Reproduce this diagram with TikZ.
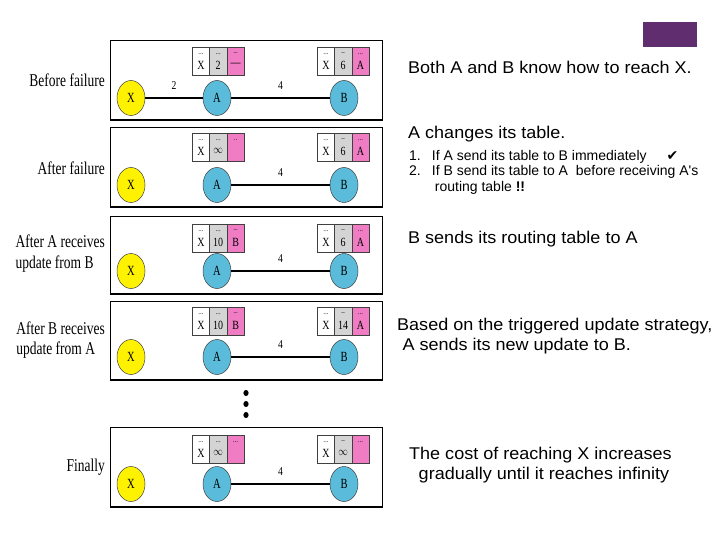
\documentclass[tikz,border=0pt]{standalone}
\usepackage{fontspec}
\usepackage{graphicx}
\setmainfont{Liberation Serif}
\newfontfamily\arial{Liberation Sans}
\newfontfamily\djv{DejaVu Sans}
\usetikzlibrary{shapes.geometric}
\definecolor{nodeblue}{RGB}{90,188,218}
\definecolor{cellgray}{RGB}{212,212,212}
\definecolor{cellpink}{RGB}{240,125,195}
\definecolor{hdrpurple}{RGB}{96,46,110}
\newcommand\cnd[2][0.75]{\scalebox{#1}[1]{#2}}
\newcommand\wid[1]{\scalebox{1.06}[1]{\begin{tabular}{@{}l@{}}#1\end{tabular}}}
\tikzset{
  panel/.style={draw=black, line width=0.9pt, anchor=north west, minimum width=272pt, inner sep=0pt},
  xnode/.style={ellipse, draw=black!75, line width=0.5pt, fill=yellow, minimum width=28pt, minimum height=35pt, inner sep=0pt, font=\fontsize{14}{14}\selectfont},
  abnode/.style={xnode, fill=nodeblue},
  cell/.style={draw=black!75, line width=0.5pt, anchor=north west, minimum width=17.33pt, minimum height=28pt, inner sep=0pt},
  celltop/.style={inner sep=0pt, font=\fontsize{7}{7}\selectfont},
  cellbot/.style={inner sep=0pt, font=\fontsize{12.5}{12.5}\selectfont},
  sidelbl/.style={anchor=east, inner sep=0pt, font=\fontsize{18}{20}\selectfont},
  edgelbl/.style={midway, yshift=12pt, inner sep=0pt, font=\fontsize{12}{12}\selectfont},
  thinlink/.style={draw=black, line width=1.1pt},
  thicklink/.style={draw=black, line width=2.2pt},
  rtext/.style={anchor=west, inner sep=0pt, align=left, font=\arial\fontsize{17}{20}\selectfont},
}
% #1 name, #2 x, #3 y, #4 col2 top, #5 col2 bottom, #6 col3 top, #7 col3 bottom
\newcommand\rtab[7]{%
  \node[cell, fill=white] (#1c1) at (#2,#3) {};
  \node[cell, fill=cellgray] (#1c2) at (#2+17.33,#3) {};
  \node[cell, fill=cellpink] (#1c3) at (#2+34.67,#3) {};
  \node[celltop] (#1t1) at ([yshift=-7pt]#1c1.north) {...};
  \node[cellbot] (#1b1) at ([yshift=-18pt]#1c1.north) {\cnd[0.8]{X}};
  \node[celltop] (#1t2) at ([yshift=-7pt]#1c2.north) {#4};
  \node[cellbot] (#1b2) at ([yshift=-18pt]#1c2.north) {\cnd[0.8]{#5}};
  \node[celltop] (#1t3) at ([yshift=-7pt]#1c3.north) {#6};
  \node[cellbot] (#1b3) at ([yshift=-18pt]#1c3.north) {\cnd[0.8]{#7}};
}
% #1 index, #2 top, #3 height, #4 node y
\newcommand\netpanel[4]{%
  \node[panel, minimum height=#3pt] (p#1) at (110,#2) {};
  \draw[line width=1.4pt] (p#1.south west) -- (p#1.south east);
  \node[xnode] (x#1) at (131,#4) {\cnd[0.75]{X}};
  \node[abnode] (a#1) at (217,#4) {\cnd[0.75]{A}};
  \node[abnode] (b#1) at (344,#4) {\cnd[0.75]{B}};
}
\begin{document}
\begin{tikzpicture}[x=1pt,y=-1pt]
\useasboundingbox (0,0) rectangle (720,540);
\fill[white] (0,0) rectangle (720,540);
% header mark
\fill[hdrpurple] (643,22) rectangle (697,47);

% panel 1
\netpanel{1}{40}{79}{98}
\rtab{ta1}{192}{47}{...}{2}{--}{---}
\rtab{tb1}{317}{47}{--}{6}{...}{A}
\draw[thinlink] (x1) -- node[edgelbl] {\cnd[0.8]{2}} (a1);
\draw[thinlink] (a1) -- node[edgelbl] {\cnd[0.8]{4}} (b1);
\node[sidelbl] (l1) at (105,80) {\cnd{Before failure}};

% panel 2
\netpanel{2}{127}{79}{185}
\rtab{ta2}{192}{133}{...}{$\infty$}{..}{}
\rtab{tb2}{317}{133}{--}{6}{...}{A}
\draw[thicklink] (a2) -- node[edgelbl] {\cnd[0.8]{4}} (b2);
\node[sidelbl] (l2) at (105,168) {\cnd{After failure}};

% panel 3
\netpanel{3}{216}{77}{271}
\rtab{ta3}{192}{224}{...}{10}{--}{B}
\rtab{tb3}{317}{224}{--}{6}{...}{A}
\draw[thicklink] (a3) -- node[edgelbl] {\cnd[0.8]{4}} (b3);
\node[sidelbl, align=left] (l3) at (105,254) {\cnd{\begin{tabular}{@{}l@{}}After A receives\\update from B\end{tabular}}};

% panel 4
\netpanel{4}{301}{78}{357}
\rtab{ta4}{192}{307}{...}{10}{--}{B}
\rtab{tb4}{317}{307}{--}{14}{...}{A}
\draw[thicklink] (a4) -- node[edgelbl] {\cnd[0.8]{4}} (b4);
\node[sidelbl, align=left] (l4) at (105,340) {\cnd{\begin{tabular}{@{}l@{}}After B receives\\update from A\end{tabular}}};

% dots
\fill (246,393) ellipse (2.6pt and 3.1pt);
\fill (246,404) ellipse (2.6pt and 3.1pt);
\fill (246,415) ellipse (2.6pt and 3.1pt);

% panel 5
\netpanel{5}{427}{79}{484}
\rtab{ta5}{192}{435}{...}{$\infty$}{...}{}
\rtab{tb5}{317}{435}{--}{$\infty$}{...}{}
\draw[thinlink] (a5) -- node[edgelbl] {\cnd[0.8]{4}} (b5);
\node[sidelbl] (l5) at (105,467) {\cnd{Finally}};

% right-hand texts
\node[rtext] (r1) at (408,70) {\wid{Both A and B know how to reach X.}};
\node[rtext] (r2) at (408,135) {\wid{A changes its table.}};
\node[anchor=north west, inner sep=0pt, font=\arial\fontsize{14}{15.5}\selectfont] (r2b) at (409,149)
  {\begin{tabular}{@{}l@{\hspace{11pt}}l@{}}1. & If A send its table to B immediately\hspace{20pt}{\djv ✔}\\
   2. & If B send its table to A\ \ before receiving A's\\
      & \hspace{3pt}routing table \textbf{!!}\end{tabular}};
\node[rtext] (r3) at (408,240) {\wid{B sends its routing table to A}};
\node[rtext] (r4) at (397,336) {\wid{Based on the triggered update strategy,\\\hspace*{5pt}A sends its new update to B.}};
\node[rtext] (r5) at (409,465) {\wid{The cost of reaching X increases\\\hspace*{9pt}gradually until it reaches infinity}};
\end{tikzpicture}
\end{document}
